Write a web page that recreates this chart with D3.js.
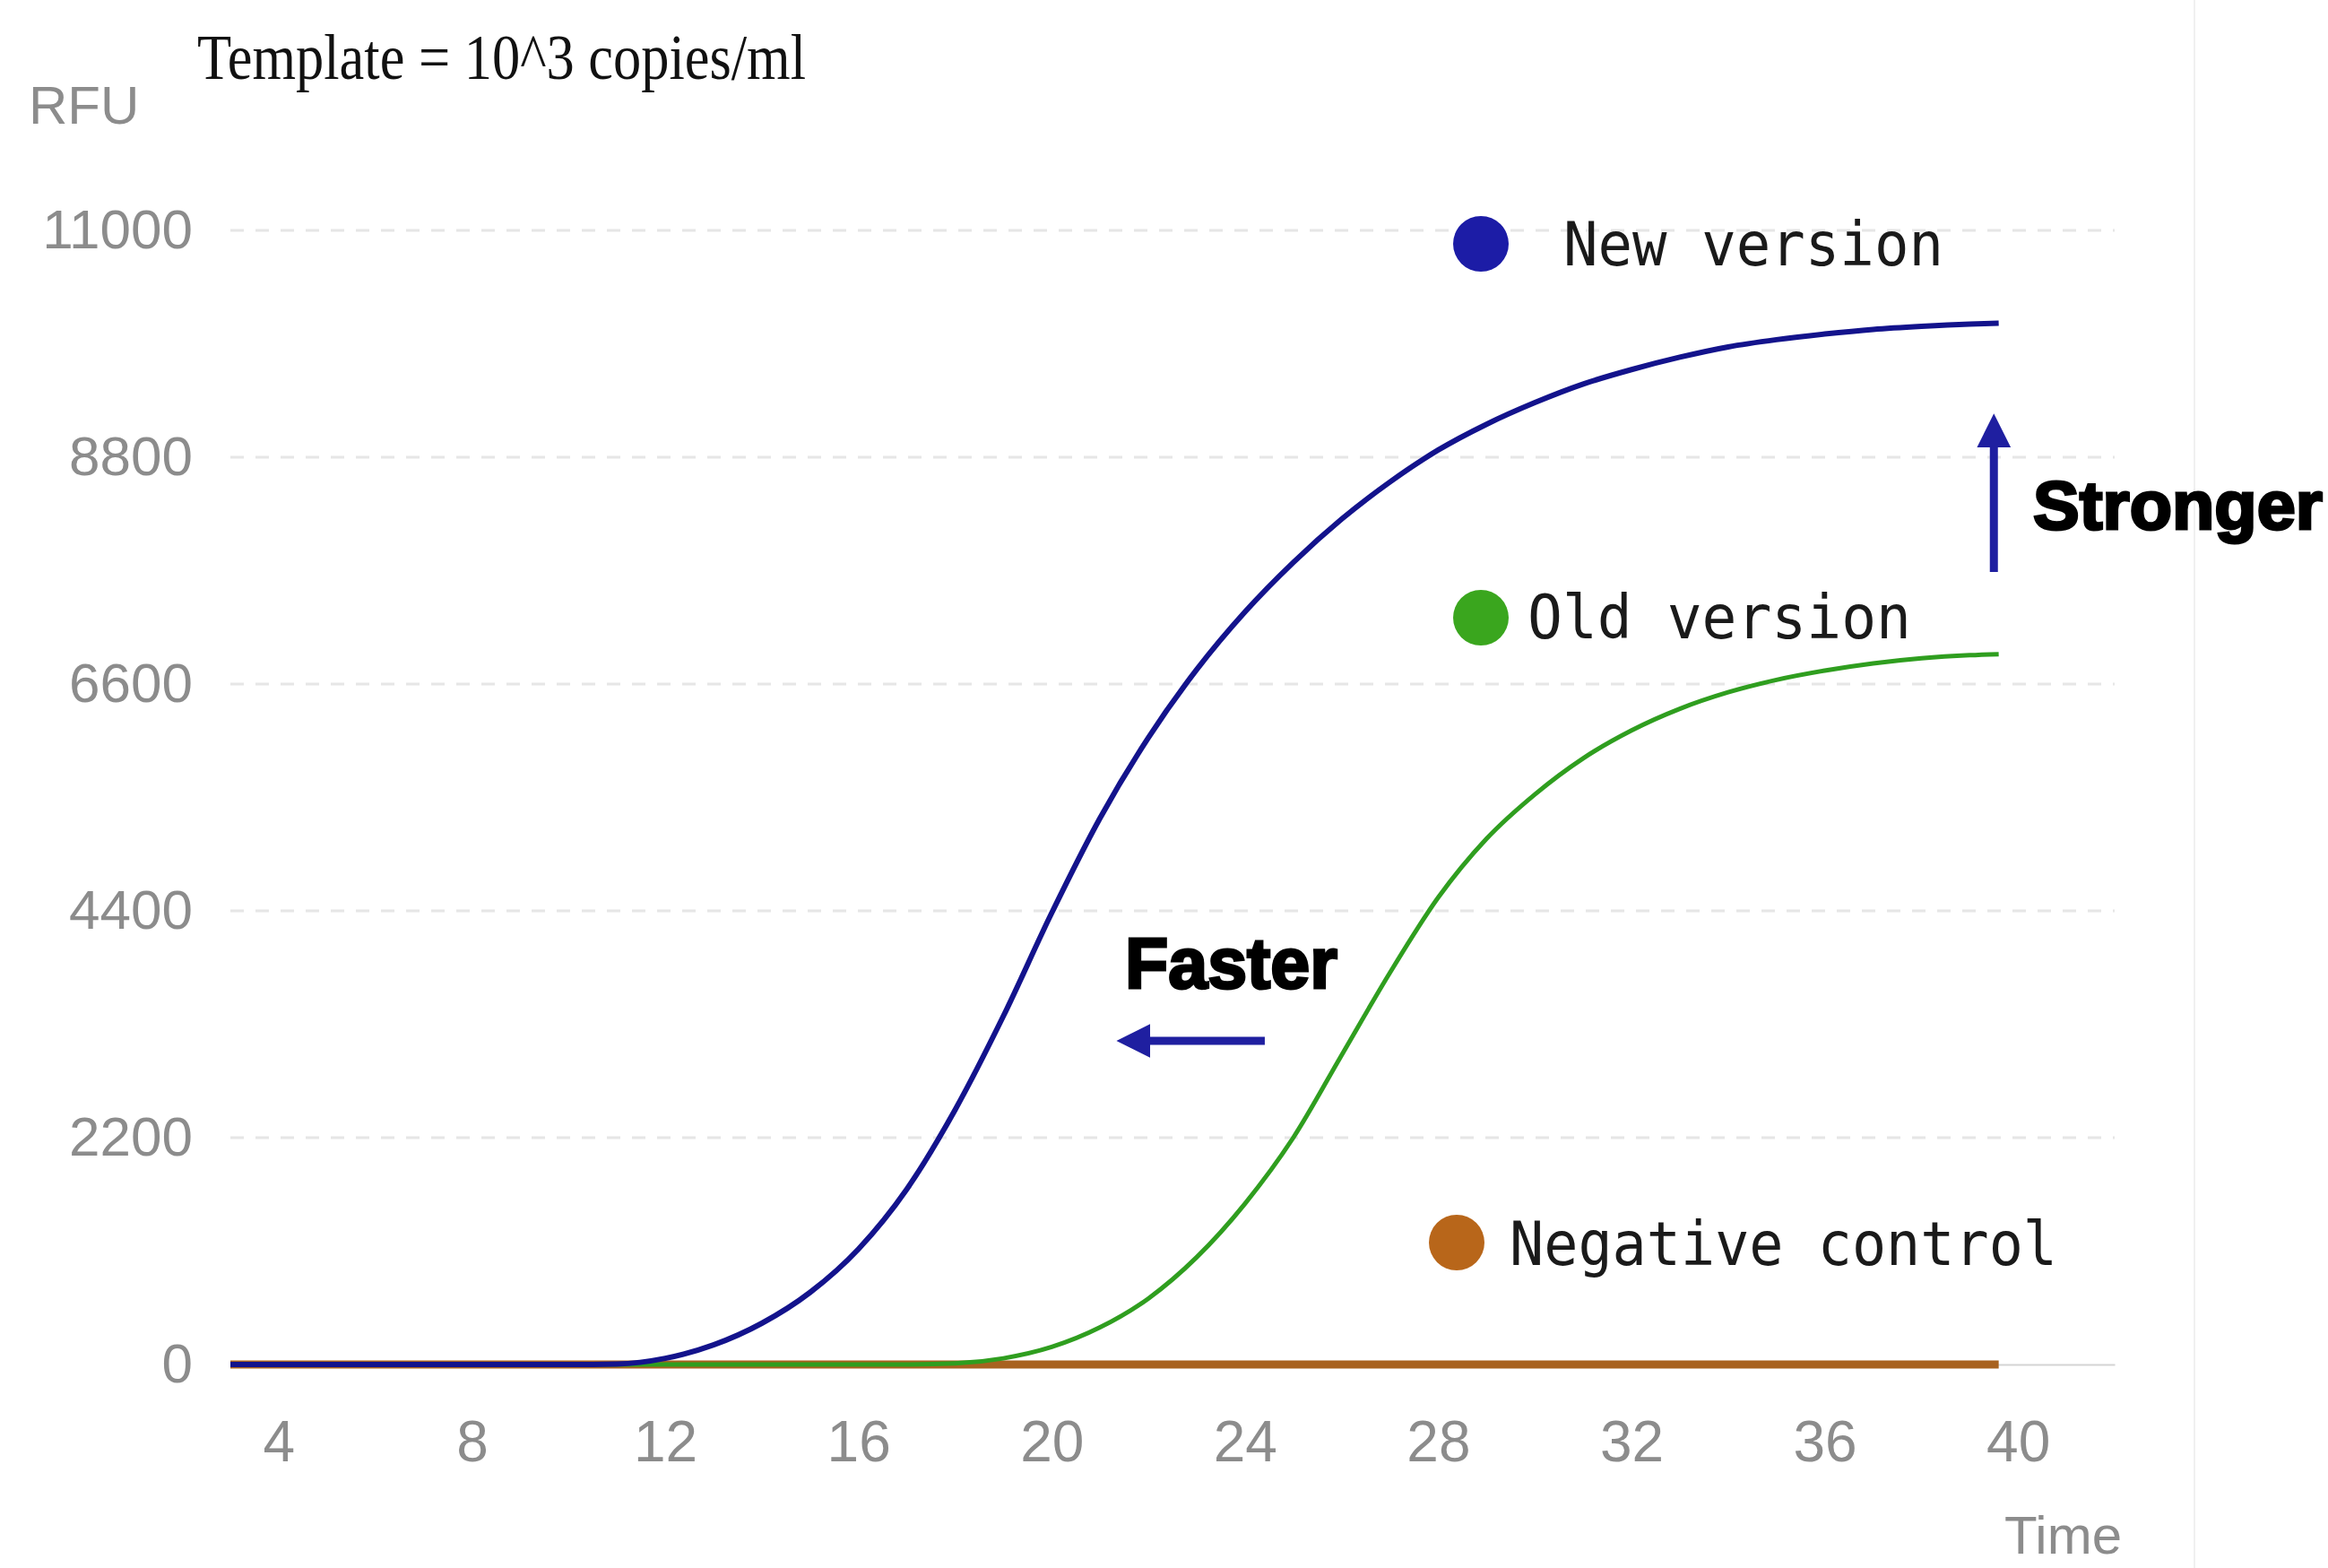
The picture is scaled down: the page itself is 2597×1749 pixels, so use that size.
<!DOCTYPE html>
<html>
<head>
<meta charset="utf-8">
<script src="https://cdn.jsdelivr.net/npm/d3@7"></script>
<style>
  body { margin: 0; background: #fff; }
  svg { display: block; }
</style>
</head>
<body>
<svg id="chart"></svg>
<script>
// cycle numbers and readings (RFU)
const cycles = [3,4,5,6,7,8,9,10,11,12,13,14,15,16,17,18,19,20,21,22,23,24,25,26,27,28,29,30,31,32,33,34,35,36,37,38,39,39.6]
const newVersion = [0,0,0,0,0,0,0,0,5,60,190,400,700,1120,1700,2470,3380,4380,5300,6080,6740,7300,7780,8200,8560,8870,9120,9330,9510,9650,9770,9870,9940,9995,10040,10070,10092,10100]
const oldVersion = [0,0,0,0,0,0,0,0,0,0,0,0,0,0,0,10,60,170,360,640,1040,1560,2200,3000,3800,4530,5100,5530,5880,6150,6360,6520,6640,6730,6800,6850,6880,6890]
const negControl = [0,0,0,0,0,0,0,0,0,0,0,0,0,0,0,0,0,0,0,0,0,0,0,0,0,0,0,0,0,0,0,0,0,0,0,0,0,0]

const xTicks = [4,8,12,16,20,24,28,32,36,40]
const yTicks = [0,2200,4400,6600,8800,11000]

const seriesNames = ['New version', 'Old version', 'Negative control']
const seriesColors = ['#13138c', '#2f9e1f', '#a8621f']
const dotColors = ['#1c1ca6', '#3aa61e', '#b8661a']

const W = 2597, H = 1749
let svg = d3.select('#chart').attr('width', W).attr('height', H)

let x = d3.scaleLinear().domain([3, 42]).range([257, 2359])
let y = d3.scaleLinear().domain([0, 11000]).range([1522, 257])

// faint picture border on the right
svg.append('line')
  .attr('x1', 2448).attr('x2', 2448).attr('y1', 0).attr('y2', H)
  .attr('stroke', '#f0f0f0').attr('stroke-width', 2)

// dashed grid
svg.append('g').selectAll('line')
  .data(yTicks.filter(d => d > 0))
  .join('line')
  .attr('x1', x(3)).attr('x2', x(42))
  .attr('y1', d => y(d)).attr('y2', d => y(d))
  .attr('stroke', '#e6e6e6').attr('stroke-width', 3)
  .attr('stroke-dasharray', '15,13')

// axes
let yAxis = svg.append('g')
  .attr('transform', `translate(${x(3)},0)`)
  .call(d3.axisLeft(y).tickValues(yTicks).tickSize(0).tickPadding(42).tickFormat(d3.format('d')))
yAxis.select('.domain').remove()
yAxis.selectAll('text')
  .attr('fill', '#8c8c8c').attr('font-size', 62)
  .attr('font-family', 'Liberation Sans, Arial, sans-serif')

let xAxis = svg.append('g')
  .attr('transform', `translate(0,${y(0)})`)
  .call(d3.axisBottom(x).tickValues(xTicks).tickSize(0).tickPadding(63))
xAxis.select('.domain').attr('stroke', '#d4d4d4').attr('stroke-width', 2)
xAxis.selectAll('text')
  .attr('fill', '#8c8c8c').attr('font-size', 64)
  .attr('font-family', 'Liberation Sans, Arial, sans-serif')

// axis names
svg.append('text').text('RFU')
  .attr('x', 32).attr('y', 138)
  .attr('fill', '#8c8c8c').attr('font-size', 60)
  .attr('font-family', 'Liberation Sans, Arial, sans-serif')
svg.append('text').text('Time')
  .attr('x', 2367).attr('y', 1733).attr('text-anchor', 'end')
  .attr('fill', '#8c8c8c').attr('font-size', 60)
  .attr('font-family', 'Liberation Sans, Arial, sans-serif')

// title
svg.append('text').text('Template = 10^3 copies/ml')
  .attr('x', 220).attr('y', 88)
  .attr('fill', '#111').attr('font-size', 72)
  .attr('font-family', 'Liberation Serif, Times New Roman, serif')
  .attr('textLength', 679).attr('lengthAdjust', 'spacingAndGlyphs')

// curves
let line = d3.line()
  .x((d, i) => x(cycles[i]))
  .y(d => y(d))
  .curve(d3.curveMonotoneX)

const series = [newVersion, oldVersion, negControl]
const widths = [6, 5, 9]
// draw control first so it sits under
;[2, 1, 0].forEach(k => {
  svg.append('path')
    .datum(series[k])
    .attr('d', line)
    .attr('fill', 'none')
    .attr('stroke', seriesColors[k])
    .attr('stroke-width', widths[k])
    .attr('stroke-linejoin', 'round')
})

// legend labels next to curves
const legendPos = [
  {cx: 1652, cy: 272, tx: 1744, ty: 296, w: 424},
  {cx: 1652, cy: 689, tx: 1704, ty: 712, w: 428},
  {cx: 1625, cy: 1386, tx: 1684, ty: 1411, w: 611}
]
legendPos.forEach((p, i) => {
  svg.append('circle').attr('cx', p.cx).attr('cy', p.cy).attr('r', 31).attr('fill', dotColors[i])
  svg.append('text').text(seriesNames[i])
    .attr('x', p.tx).attr('y', p.ty)
    .attr('fill', '#1a1a1a').attr('font-size', 68)
    .attr('font-family', 'DejaVu Sans Mono, Liberation Mono, monospace')
    .attr('textLength', p.w).attr('lengthAdjust', 'spacingAndGlyphs')
})

// annotations
const arrowColor = '#1f1fa0'
let defs = svg.append('defs')
defs.append('marker')
  .attr('id', 'head')
  .attr('viewBox', '0 0 10 10')
  .attr('refX', 2).attr('refY', 5)
  .attr('markerWidth', 4.2).attr('markerHeight', 4.2)
  .attr('markerUnits', 'strokeWidth')
  .attr('orient', 'auto')
  .append('path').attr('d', 'M0,0 L10,5 L0,10 Z').attr('fill', arrowColor)

// "Faster": arrow pointing left (cycle units / RFU)
const fasterArrow = {from: [24.41, 3139], to: [21.9, 3139]}
svg.append('line')
  .attr('x1', x(fasterArrow.from[0])).attr('y1', y(fasterArrow.from[1]))
  .attr('x2', x(fasterArrow.to[0])).attr('y2', y(fasterArrow.to[1]))
  .attr('stroke', arrowColor).attr('stroke-width', 9)
  .attr('marker-end', 'url(#head)')
svg.append('text').text('Faster')
  .attr('x', 1255).attr('y', 1102)
  .attr('fill', '#000').attr('stroke', '#000').attr('stroke-width', 3)
  .attr('font-size', 80).attr('font-weight', 'bold')
  .attr('font-family', 'Liberation Sans, Arial, sans-serif')
  .attr('textLength', 237).attr('lengthAdjust', 'spacingAndGlyphs')

// "Stronger": arrow pointing up
const strongerArrow = {from: [39.5, 7687], to: [39.5, 8960]}
svg.append('line')
  .attr('x1', x(strongerArrow.from[0])).attr('y1', y(strongerArrow.from[1]))
  .attr('x2', x(strongerArrow.to[0])).attr('y2', y(strongerArrow.to[1]))
  .attr('stroke', arrowColor).attr('stroke-width', 9)
  .attr('marker-end', 'url(#head)')
svg.append('text').text('Stronger')
  .attr('x', 2268).attr('y', 590)
  .attr('fill', '#000').attr('stroke', '#000').attr('stroke-width', 3)
  .attr('font-size', 76).attr('font-weight', 'bold')
  .attr('font-family', 'Liberation Sans, Arial, sans-serif')
  .attr('textLength', 323).attr('lengthAdjust', 'spacingAndGlyphs')
</script>
</body>
</html>
